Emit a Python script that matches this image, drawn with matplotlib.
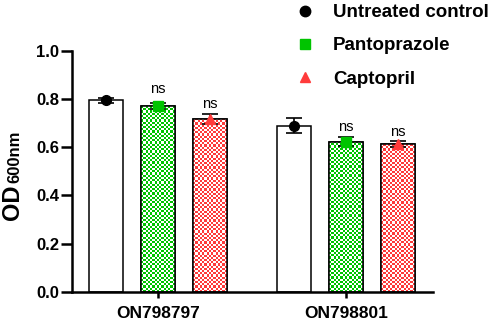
import numpy as np
import matplotlib
matplotlib.use("Agg")
import matplotlib.pyplot as plt
from matplotlib.lines import Line2D

plt.rcParams['font.family'] = ['Liberation Sans', 'DejaVu Sans']

strains = ["ON798797", "ON798801"]
treatments = ["Untreated control", "Pantoprazole", "Captopril"]
means = {
    "Untreated control": [0.795, 0.688],
    "Pantoprazole": [0.771, 0.623],
    "Captopril": [0.718, 0.613],
}
errs = {
    "Untreated control": [0.010, 0.031],
    "Pantoprazole": [0.014, 0.020],
    "Captopril": [0.021, 0.012],
}
sig_labels = {"Pantoprazole": ["ns", "ns"], "Captopril": ["ns", "ns"]}
sig_y = {"Pantoprazole": [0.824, 0.667], "Captopril": [0.762, 0.646]}

fill_colors = {"Untreated control": None, "Pantoprazole": "#00C400", "Captopril": "#FF3B3B"}
marker_styles = {"Untreated control": ("o", "black"),
                 "Pantoprazole": ("s", "#00C400"),
                 "Captopril": ("^", "#FF3B3B")}

fig = plt.figure(figsize=(4.98, 3.22), dpi=100)
ax = fig.add_axes([0.145, 0.094, 0.725, 0.7485])

group_gap = 3.615
width = 0.65
px_per_unit_x = 52.0
px_per_unit_y = 241.0
cell = 2.2

for gi, strain in enumerate(strains):
    for ti, tr in enumerate(treatments):
        x = gi * group_gap + ti
        m = means[tr][gi]
        e = errs[tr][gi]
        bar = ax.bar(x, m, width=width, facecolor="white", edgecolor="black",
                     linewidth=1.1, zorder=2)[0]
        col = fill_colors[tr]
        if col is not None:
            nx = int(round(width * px_per_unit_x / cell))
            ny = int(round(m * px_per_unit_y / cell))
            rgb = np.array(matplotlib.colors.to_rgb(col))
            chk = (np.add.outer(np.arange(ny), np.arange(nx)) % 2).astype(float)
            img = np.ones((ny, nx, 3))
            img[chk == 1] = rgb
            im = ax.imshow(img, extent=(x - width / 2, x + width / 2, 0, m),
                           interpolation="nearest", aspect="auto", zorder=2.5,
                           origin="lower")
            im.set_clip_path(bar)
            ax.bar(x, m, width=width, facecolor="none", edgecolor="black",
                   linewidth=1.1, zorder=3)
        mk, mc = marker_styles[tr]
        ax.errorbar(x, m, yerr=e, fmt="none", ecolor="black", elinewidth=1.2,
                    capsize=6, capthick=1.2, zorder=4)
        ax.plot(x, m, marker=mk, color=mc, markersize=7, linestyle="none", zorder=5)
        if tr in sig_labels:
            ax.text(x, sig_y[tr][gi], sig_labels[tr][gi], ha="center", va="baseline",
                    fontsize=10.5)

ax.set_ylim(0, 1.0)
ax.set_xlim(-0.65, 6.29)
ax.set_yticks([0.0, 0.2, 0.4, 0.6, 0.8, 1.0])
ax.set_yticklabels(["0.0", "0.2", "0.4", "0.6", "0.8", "1.0"], fontweight="bold", fontsize=12)
ax.set_xticks([1, group_gap + 1])
ax.set_xticklabels(strains, fontweight="bold", fontsize=12.5)
for s in ["top", "right"]:
    ax.spines[s].set_visible(False)
for s in ["left", "bottom"]:
    ax.spines[s].set_linewidth(1.8)
ax.tick_params(axis="y", width=1.8, length=8, pad=1.5, direction="out")
ax.tick_params(axis="x", width=1.8, length=4.5, pad=6, direction="out")

# y label: "OD" with subscript "600nm", drawn as two texts
renderer = fig.canvas.get_renderer()
W, H = fig.bbox.width, fig.bbox.height
od = fig.text(12 / W, (322 - 220) / H, "OD", rotation=90, ha="center", va="bottom",
              fontsize=17, fontweight="bold")
bb = od.get_window_extent(renderer)
fig.text((bb.x1 - 1) / W, bb.y1 / H + 0.004, "600nm", rotation=90, ha="right", va="bottom",
         fontsize=12, fontweight="bold")

handles = [Line2D([], [], marker=marker_styles[t][0], color=marker_styles[t][1],
                  linestyle="none", markersize=7.5) for t in treatments]
leg = fig.legend(handles, treatments, loc="upper left", bbox_to_anchor=(0.575, 1.01),
                 frameon=False, prop={"weight": "bold", "size": 13.5},
                 labelspacing=0.85, handletextpad=0.9, borderaxespad=0,
                 handlelength=1.2)

fig.savefig("out.png", dpi=100)
